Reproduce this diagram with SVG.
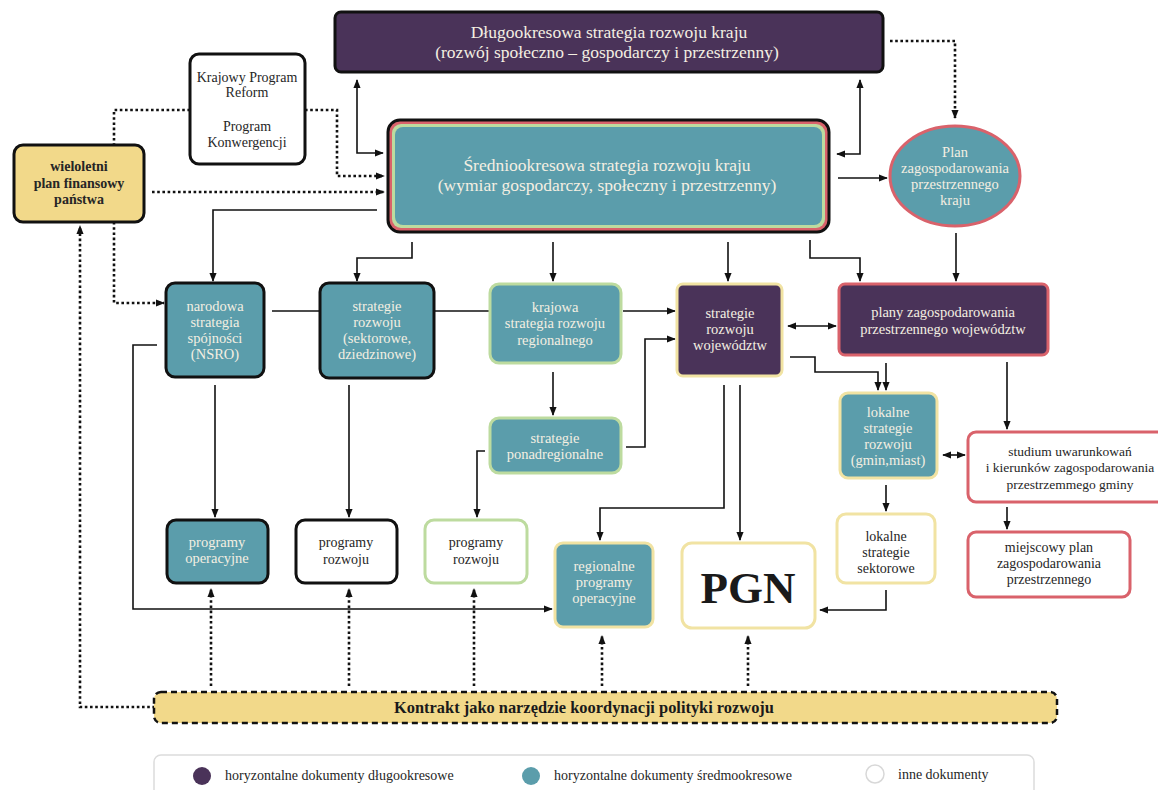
<svg xmlns="http://www.w3.org/2000/svg" width="1158" height="790" viewBox="0 0 1158 790">
<defs>
<marker id="ah" viewBox="0 0 10 10" refX="9" refY="5" markerWidth="9" markerHeight="9" markerUnits="userSpaceOnUse" orient="auto-start-reverse"><path d="M0,1 L10,5 L0,9 z" fill="#111"/></marker>
</defs>
<style>
text{font-family:"Liberation Serif","Times New Roman",serif;text-anchor:middle}
.t{font-size:14.5px;fill:#f4efe2}
.d{font-size:14px;fill:#262626}
.big{font-size:17.5px;fill:#f4efe2}
.pu{fill:#4a3359}
.te{fill:#5b9dab}
.bk{stroke:#111;stroke-width:3}
.rd{stroke:#d9626b;stroke-width:3}
.ye{stroke:#f1e3a3;stroke-width:3}
.gr{stroke:#bddb9f;stroke-width:3}
.ln{fill:none;stroke:#111;stroke-width:1.6}
.dt{fill:none;stroke:#111;stroke-width:2.6;stroke-dasharray:2.6 2.6}
.leg{font-size:14px;fill:#262626;text-anchor:start}
</style>

<g id="connectors">
<path class="ln" d="M357 80 V153 H383" marker-start="url(#ah)" marker-end="url(#ah)"/>
<path class="ln" d="M860 80 V154 H837" marker-start="url(#ah)" marker-end="url(#ah)"/>
<path class="ln" d="M838 178 H887" marker-end="url(#ah)"/>
<path class="ln" d="M377 210 H213 V281" marker-end="url(#ah)"/>
<path class="ln" d="M412 242 V258 H357 V281" marker-end="url(#ah)"/>
<path class="ln" d="M553 242 V281" marker-end="url(#ah)"/>
<path class="ln" d="M728 242 V281" marker-end="url(#ah)"/>
<path class="ln" d="M810 240 V258 H860 V281" marker-end="url(#ah)"/>
<path class="ln" d="M956 233 V281" marker-end="url(#ah)"/>
<path class="ln" d="M272 311 H320"/>
<path class="ln" d="M435 311 H490"/>
<path class="ln" d="M623 311 H675" marker-end="url(#ah)"/>
<path class="ln" d="M788 326 H836" marker-start="url(#ah)" marker-end="url(#ah)"/>
<path class="ln" d="M790 357 H815 V372 H878 V390" marker-end="url(#ah)"/>
<path class="ln" d="M886 363 V390" marker-end="url(#ah)"/>
<path class="ln" d="M1007 362 V429" marker-end="url(#ah)"/>
<path class="ln" d="M553 372 V415" marker-end="url(#ah)"/>
<path class="ln" d="M626 447 H645 V339 H675" marker-end="url(#ah)"/>
<path class="ln" d="M485 451 H477 V517" marker-end="url(#ah)"/>
<path class="ln" d="M724 385 V508 H600 V540" marker-end="url(#ah)"/>
<path class="ln" d="M740 385 V540" marker-end="url(#ah)"/>
<path class="ln" d="M215 385 V517" marker-end="url(#ah)"/>
<path class="ln" d="M349 385 V517" marker-end="url(#ah)"/>
<path class="ln" d="M157 345 H133 V609 H552" marker-end="url(#ah)"/>
<path class="ln" d="M943 455 H965" marker-start="url(#ah)" marker-end="url(#ah)"/>
<path class="ln" d="M886 485 V511" marker-end="url(#ah)"/>
<path class="ln" d="M1007 507 V529" marker-end="url(#ah)"/>
<path class="ln" d="M886 590 V610 H820" marker-end="url(#ah)"/>
<path class="dt" d="M190 110 H114 V145"/>
<path class="dt" d="M305 110 H337 V176 H384" marker-end="url(#ah)"/>
<path class="dt" d="M152 192 H384" marker-end="url(#ah)"/>
<path class="dt" d="M114 222 V303 H164" marker-end="url(#ah)"/>
<path class="dt" d="M155 707 H80 V226" marker-end="url(#ah)"/>
<path class="dt" d="M890 41 H955 V118" marker-end="url(#ah)"/>
<path class="dt" d="M211 686 V589" marker-end="url(#ah)"/>
<path class="dt" d="M349 686 V589" marker-end="url(#ah)"/>
<path class="dt" d="M474 686 V589" marker-end="url(#ah)"/>
<path class="dt" d="M602 686 V636" marker-end="url(#ah)"/>
<path class="dt" d="M748 686 V636" marker-end="url(#ah)"/>
</g>

<g id="dlugookresowa">
<rect x="335" y="12" width="548" height="60" rx="6" class="pu bk"/>
<text x="609" y="38" class="big">Długookresowa strategia rozwoju kraju</text>
<text x="607" y="58" class="big">(rozwój społeczno – gospodarczy i przestrzenny)</text>
</g>

<g id="sredniookresowa">
<rect x="388" y="120" width="441" height="112" rx="12" fill="#d9626b" stroke="#111" stroke-width="3"/>
<rect x="392" y="124" width="433" height="104" rx="9" fill="#bddb9f"/>
<rect x="395" y="127" width="427" height="98" rx="8" fill="#5b9dab"/>
<text x="607" y="171" class="big">Średniookresowa strategia rozwoju kraju</text>
<text x="607" y="191" class="big">(wymiar gospodarczy, społeczny i przestrzenny)</text>
</g>

<g id="krajowy-program">
<rect x="190" y="54" width="115" height="110" rx="9" fill="#fff" class="bk"/>
<text x="247" y="82" class="d">Krajowy Program</text>
<text x="247" y="97" class="d">Reform</text>
<text x="247" y="131" class="d">Program</text>
<text x="247" y="147" class="d">Konwergencji</text>
</g>

<g id="wieloletni">
<rect x="14" y="145" width="130" height="77" rx="9" fill="#f2d98a" class="bk"/>
<text x="79" y="171" class="d" font-weight="bold">wieloletni</text>
<text x="79" y="188" class="d" font-weight="bold">plan finansowy</text>
<text x="79" y="204" class="d" font-weight="bold">państwa</text>
</g>

<g id="plan-kraju">
<ellipse cx="955" cy="176" rx="65" ry="50" class="te rd"/>
<text x="955" y="157" class="t">Plan</text>
<text x="955" y="173" class="t">zagospodarowania</text>
<text x="955" y="189" class="t">przestrzennego</text>
<text x="955" y="205" class="t">kraju</text>
</g>

<g id="nsro">
<rect x="166" y="283" width="98" height="94" rx="9" class="te bk"/>
<text x="215" y="311" class="t">narodowa</text>
<text x="215" y="327" class="t">strategia</text>
<text x="215" y="343" class="t">spójności</text>
<text x="215" y="359" class="t">(NSRO)</text>
</g>

<g id="strategie-sektorowe">
<rect x="320" y="283" width="114" height="95" rx="9" class="te bk"/>
<text x="377" y="311" class="t">strategie</text>
<text x="377" y="327" class="t">rozwoju</text>
<text x="377" y="343" class="t">(sektorowe,</text>
<text x="377" y="359" class="t">dziedzinowe)</text>
</g>

<g id="ksrr">
<rect x="490" y="284" width="131" height="79" rx="9" class="te gr"/>
<text x="555" y="312" class="t">krajowa</text>
<text x="555" y="328" class="t">strategia rozwoju</text>
<text x="555" y="345" class="t">regionalnego</text>
</g>

<g id="srw">
<rect x="677" y="284" width="105" height="92" rx="6" class="pu ye"/>
<text x="730" y="318" class="t">strategie</text>
<text x="730" y="334" class="t">rozwoju</text>
<text x="730" y="350" class="t">województw</text>
</g>

<g id="pzpw">
<rect x="839" y="284" width="209" height="71" rx="6" class="pu rd"/>
<text x="943" y="317" class="t">plany zagospodarowania</text>
<text x="943" y="334" class="t">przestrzennego województw</text>
</g>

<g id="ponadregionalne">
<rect x="490" y="418" width="131" height="55" rx="9" class="te gr"/>
<text x="555" y="443" class="t">strategie</text>
<text x="555" y="459" class="t">ponadregionalne</text>
</g>

<g id="lokalne-strategie">
<rect x="840" y="393" width="97" height="85" rx="8" class="te ye"/>
<text x="888" y="417" class="t">lokalne</text>
<text x="888" y="433" class="t">strategie</text>
<text x="888" y="449" class="t">rozwoju</text>
<text x="888" y="465" class="t">(gmin,miast)</text>
</g>

<g id="studium">
<rect x="968" y="432" width="204" height="70" rx="8" fill="#fff" class="rd"/>
<text x="1070" y="456" class="d" style="font-size:13.5px">studium uwarunkowań</text>
<text x="1070" y="472" class="d" style="font-size:13.5px">i kierunków zagospodarowania</text>
<text x="1070" y="489" class="d" style="font-size:13.5px">przestrzemmego gminy</text>
</g>

<g id="mpzp">
<rect x="968" y="532" width="162" height="65" rx="8" fill="#fff" class="rd"/>
<text x="1049" y="552" class="d">miejscowy plan</text>
<text x="1049" y="568" class="d">zagospodarowania</text>
<text x="1049" y="584" class="d">przestrzennego</text>
</g>

<g id="programy-operacyjne">
<rect x="167" y="520" width="101" height="63" rx="9" class="te bk"/>
<text x="217" y="547" class="t">programy</text>
<text x="217" y="563" class="t">operacyjne</text>
</g>

<g id="programy-rozwoju-1">
<rect x="296" y="520" width="101" height="63" rx="9" fill="#fff" class="bk"/>
<text x="346" y="547" class="d">programy</text>
<text x="346" y="564" class="d">rozwoju</text>
</g>

<g id="programy-rozwoju-2">
<rect x="425" y="520" width="102" height="63" rx="9" fill="#fff" class="gr"/>
<text x="476" y="547" class="d">programy</text>
<text x="476" y="564" class="d">rozwoju</text>
</g>

<g id="rpo">
<rect x="555" y="543" width="98" height="84" rx="8" class="te ye"/>
<text x="604" y="571" class="t">regionalne</text>
<text x="604" y="587" class="t">programy</text>
<text x="604" y="603" class="t">operacyjne</text>
</g>

<g id="pgn">
<rect x="682" y="543" width="133" height="85" rx="10" fill="#fff" class="ye"/>
<text x="748" y="603" font-size="45" font-weight="bold" fill="#1a1a1a">PGN</text>
</g>

<g id="lokalne-sektorowe">
<rect x="837" y="514" width="98" height="69" rx="9" fill="#fff" class="ye"/>
<text x="886" y="541" class="d">lokalne</text>
<text x="886" y="557" class="d">strategie</text>
<text x="886" y="573" class="d">sektorowe</text>
</g>

<g id="kontrakt">
<rect x="154" y="692" width="903" height="31" rx="7" fill="#f2d98a" stroke="#111" stroke-width="2.5" stroke-dasharray="6 4"/>
<text x="584" y="713" font-size="16.4" font-weight="bold" fill="#1a1a1a">Kontrakt jako narzędzie koordynacji polityki rozwoju</text>
</g>

<g id="legenda">
<rect x="154" y="755" width="880" height="50" rx="7" fill="#fff" stroke="#dcdcdc" stroke-width="1.5"/>
<circle cx="202" cy="776" r="9" fill="#4a3359"/>
<text x="225" y="780" class="leg">horyzontalne dokumenty długookresowe</text>
<circle cx="531" cy="776" r="9" fill="#5b9dab"/>
<text x="554" y="780" class="leg">horyzontalne dokumenty średmookresowe</text>
<circle cx="875" cy="774" r="9" fill="#fff" stroke="#d8d8d8" stroke-width="1.5"/>
<text x="898" y="779" class="leg">inne dokumenty</text>
</g>
</svg>
